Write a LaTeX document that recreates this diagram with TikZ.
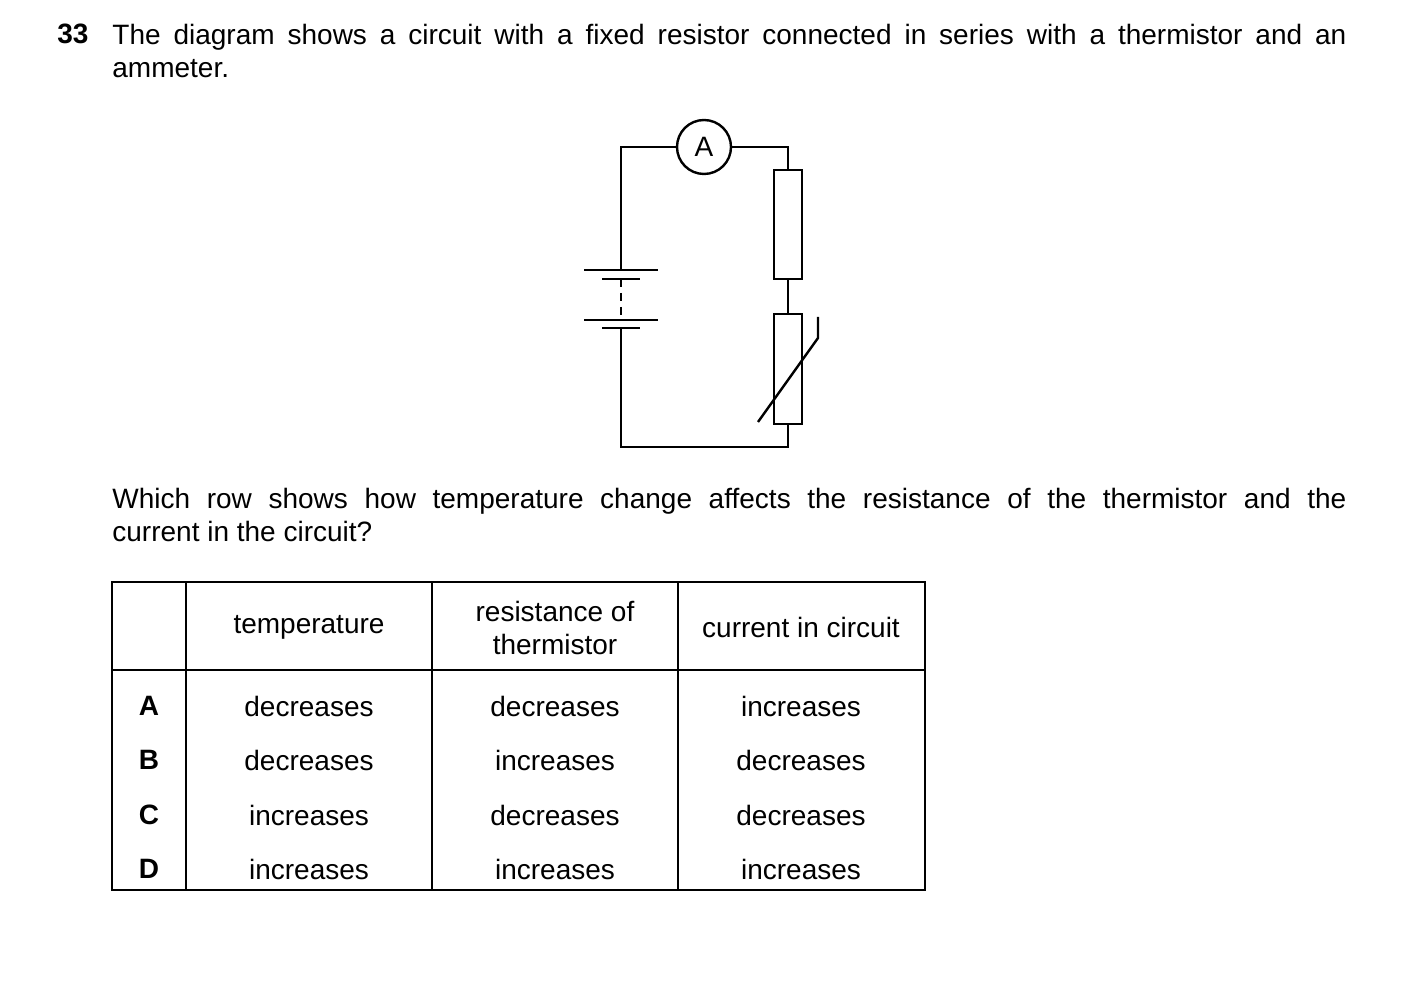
\documentclass[tikz,border=0pt]{standalone}
\usepackage{fontspec}
\setmainfont{Liberation Sans}
\usetikzlibrary{positioning}
\begin{document}
\begin{tikzpicture}
      [
        x=0.5pt, y=-0.5pt,
        wire/.style={line width=1.2pt},
        txt/.style={inner sep=0pt, font=\fontsize{14}{16.5}\selectfont},
        para/.style={txt, anchor=north west, text width=617pt, align=justify},
        cell/.style={txt, align=center}
      ]
      \useasboundingbox (0,0) rectangle (1403,983);
      % question text
      \node [txt, anchor=north west, font=\fontsize{14}{16.5}\selectfont\bfseries] (num) at (57,24) {33};
      \node [para] (q1) at (112,24) {The diagram shows a circuit with a fixed resistor connected in series with a thermistor and an\linebreak ammeter.};
      \node [para] (q2) at (112,488) {Which row shows how temperature change affects the resistance of the thermistor and the\linebreak current in the circuit?};
      % circuit
      \node [circle, draw, wire, minimum size=27pt, inner sep=0pt, txt] (amm) at (704,147) {A};
      \coordinate (tl) at (621,147);
      \coordinate (tr) at (788,147);
      \coordinate (bl) at (621,447);
      \coordinate (br) at (788,447);
      \node [draw, wire, minimum width=14pt, minimum height=54.5pt, inner sep=0pt] (res) at (788,224.5) {};
      \node [draw, wire, minimum width=14pt, minimum height=55pt, inner sep=0pt] (therm) at (788,369) {};
      \coordinate (bat1) at (621,270);
      \coordinate (bat2) at (621,328);
      \draw [wire] (amm) -- (tl) -- (bat1);
      \draw [wire] (amm) -- (tr) -- (res.north);
      \draw [wire] (res.south) -- (therm.north);
      \draw [wire] (therm.south) -- (br) -- (bl) -- (bat2);
      % cells
      \draw [wire] (584,270) -- (658,270);
      \draw [wire] (602,279) -- (640,279);
      \draw [wire, dash pattern=on 4pt off 3pt] (621,279) -- (621,320);
      \draw [wire] (584,320) -- (658,320);
      \draw [wire] (602,328) -- (640,328);
      % thermistor mark
      \draw [wire] (758,422) -- (818,338) -- (818,317);
      % table
      \draw [line width=0.9pt] (112,582) rectangle (925,890);
      \draw [line width=0.7pt] (112,670) -- (925,670);
      \foreach \x in {186,432,678} {
          \draw [line width=0.7pt] (\x,582) -- (\x,890);
      }
      \node [cell] (h1) at (309,627) {temperature};
      \node [cell] (h2) at (555,628) {resistance of\\thermistor};
      \node [cell] (h3) at (801,627) {current in circuit};
      \foreach \r/\y/\a/\b/\c in {A/706/decreases/decreases/increases,
                                 B/760/decreases/increases/decreases,
                                 C/815/increases/decreases/decreases,
                                 D/869/increases/increases/increases} {
          \node [cell, font=\fontsize{14}{16.5}\selectfont\bfseries] (l\r) at (149,\y) {\r};
          \node [cell] (t\r) at (309,\y) {\a};
          \node [cell] (s\r) at (555,\y) {\b};
          \node [cell] (c\r) at (801,\y) {\c};
      }
    \end{tikzpicture}
\end{document}
